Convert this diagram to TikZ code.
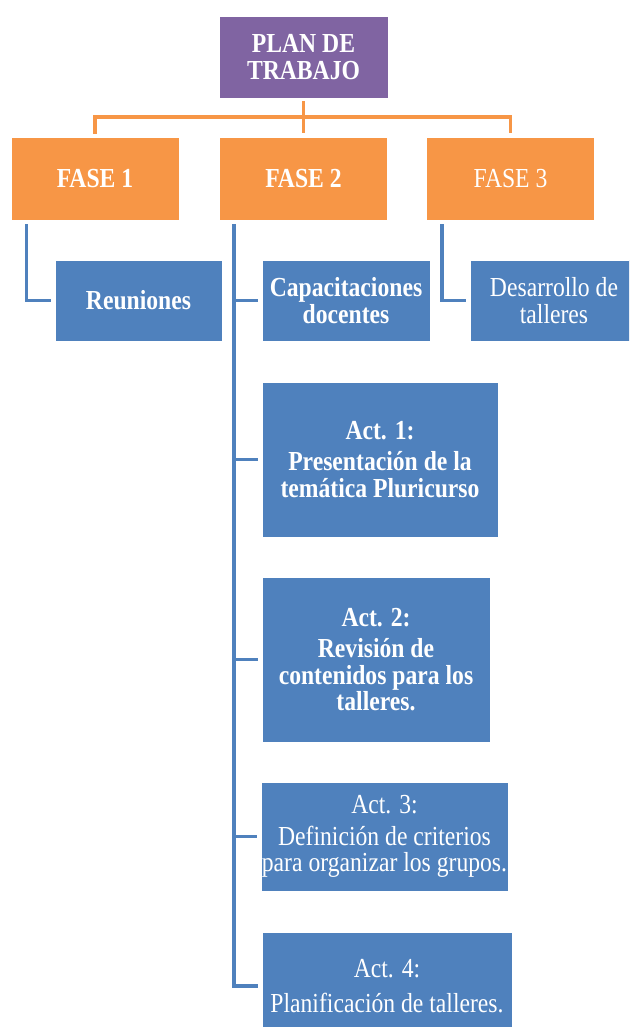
\documentclass[tikz,border=0pt]{standalone}
\usepackage{fontspec}
\setmainfont{Liberation Serif}[FakeStretch=0.86]
\usetikzlibrary{positioning}

\definecolor{planpurple}{HTML}{8064A2}
\definecolor{faseorange}{HTML}{F79646}
\definecolor{actblue}{HTML}{4F81BD}

\begin{document}
\begin{tikzpicture}[
    x=1pt, y=-1pt,
    box/.style={
        rectangle,
        draw=white, line width=0.6pt,
        text=white, align=center,
        inner sep=1pt,
        font=\fontsize{27.5}{26.5}\selectfont,
    },
    planbox/.style={box, fill=planpurple, font=\bfseries\fontsize{27.5}{26.5}\selectfont},
    fasebox/.style={box, fill=faseorange, minimum width=168pt, minimum height=83pt},
    actbox/.style={box, fill=actblue},
    boldtext/.style={font=\bfseries\fontsize{27.5}{26.5}\selectfont},
    orgline/.style={draw=faseorange, line width=3.5pt, shorten <=3pt, shorten >=4pt},
    blueline/.style={draw=actblue, line width=3.5pt, shorten <=4pt, shorten >=4pt},
    ]
    \useasboundingbox (0,0) rectangle (629,1027);
    \clip (0,0) rectangle (629,1027);

    \node [planbox, minimum width=169pt, minimum height=82pt, at={(303.5,57)}] (plan)
        {PLAN DE\\TRABAJO};

    \node [fasebox, boldtext, at={(95,178.5)}] (fase1) {FASE 1};
    \node [fasebox, boldtext, at={(303.5,178.5)}] (fase2) {FASE 2};
    \node [fasebox, at={(510.5,178.5)}] (fase3) {FASE 3};

    \node [actbox, boldtext, minimum width=167pt, minimum height=81pt, at={(138.5,300.5)}] (reun)
        {Reuniones};
    \node [actbox, boldtext, minimum width=168pt, minimum height=81pt, at={(346,300.5)}] (capa)
        {Capacitaciones\\docentes};
    \node [actbox, minimum width=168pt, minimum height=81pt, at={(554,300.5)}] (desa)
        {Desarrollo de\\talleres};

    \node [actbox, boldtext, minimum width=236pt, minimum height=155pt, at={(380,459.5)}] (act1)
        {Act. 1:\\[5pt]Presentación de la\\temática Pluricurso};
    \node [actbox, boldtext, minimum width=228pt, minimum height=165pt, at={(376,659.5)}] (act2)
        {Act. 2:\\[5pt]Revisión de\\contenidos para los\\talleres.};
    \node [actbox, minimum width=245pt, minimum height=109pt, at={(384.5,836.5)}] (act3)
        {Act. 3:\\[5pt]Definición de criterios\\para organizar los grupos.};
    \node [actbox, minimum width=250pt, minimum height=108pt, at={(387,986)}] (act4)
        {Act. 4:\\[8pt]Planificación de talleres.};

    % orange bracket
    \coordinate (bus) at (303.5,117);
    \draw [orgline] (plan.south) -- (fase2.north);
    \draw [orgline] (fase1.north) |- (bus) -| (fase3.north);

    % blue branches
    \coordinate (trunk1) at ([xshift=16pt]fase1.south west);
    \coordinate (trunk2) at ([xshift=15pt]fase2.south west);
    \coordinate (trunk3) at ([xshift=16pt]fase3.south west);
    \draw [blueline] (trunk1) |- (reun.west);
    \draw [blueline] (trunk3) |- (desa.west);
    \foreach \n in {capa,act1,act2,act3,act4}
        \draw [blueline] (trunk2) |- (\n.west);
\end{tikzpicture}
\end{document}
